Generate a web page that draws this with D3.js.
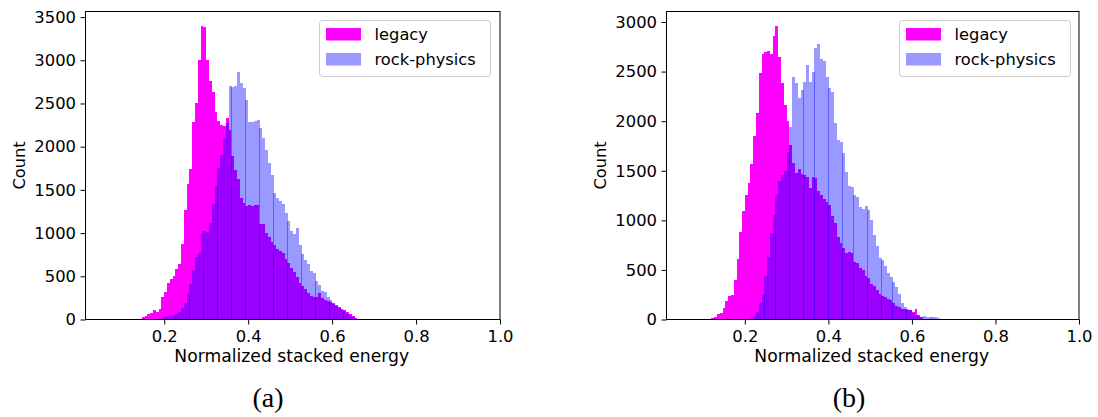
<!DOCTYPE html>
<html>
<head>
<meta charset="utf-8">
<script src="https://cdn.jsdelivr.net/npm/d3@7"></script>
<style>
  body { margin: 0; background: #fff; }
  svg { display: block; }
  text { fill: #000; }
</style>
</head>
<body>
<svg id="fig" width="1098" height="417"></svg>
<script>
// Histogram bins: edges at binWidth multiples, each series lists counts from its first bin index.
const binWidth = 1 / 150;
const seriesNames = ["legacy", "rock-physics"];
const xTicks = [0.2, 0.4, 0.6, 0.8, 1.0];
const yTicksA = [0, 500, 1000, 1500, 2000, 2500, 3000, 3500];
const yTicksB = [0, 500, 1000, 1500, 2000, 2500, 3000];
const captions = ["(a)", "(b)"];

// Panel (a)
const legacyAFirst = 22;
const legacyA = [29, 44, 60, 75, 110, 87, 122, 265, 315, 419, 473, 508, 581, 643, 871, 1269,
  1570, 1740, 2289, 2505, 3007, 3395, 3390, 3007, 2756, 2629, 2407, 2292, 2250, 2235, 2331,
  2190, 1895, 1733, 1625, 1405, 1347, 1316, 1327, 1308, 1321, 1321, 1107, 1100, 999, 960, 902,
  863, 820, 790, 767, 700, 651, 600, 554, 496, 419, 387, 350, 303, 272, 265, 257, 303, 245,
  226, 215, 207, 190, 165, 150, 125, 110, 85, 62, 38, 18, 5];
const rockAFirst = 29;
const rockA = [15, 33, 40, 52, 56, 64, 91, 129, 187, 311, 411, 574, 728, 774, 1006, 1025, 1010,
  1113, 1340, 1550, 1750, 1900, 2100, 2280, 2700, 2690, 2700, 2868, 2735, 2685, 2540, 2285,
  2281, 2295, 2312, 2215, 2099, 1964, 1810, 1674, 1462, 1410, 1370, 1338, 1235, 1140, 1030,
  990, 1056, 863, 757, 693, 643, 560, 543, 440, 405, 330, 320, 260, 226, 185, 160, 130, 108,
  95, 65, 42, 25, 10];

// Panel (b)
const legacyBFirst = 18;
const legacyB = [12, 22, 55, 62, 119, 186, 237, 247, 398, 606, 885, 1097, 1254, 1372, 1564,
  1850, 2078, 2487, 2676, 2700, 2710, 2680, 2857, 2958, 2649, 2380, 2162, 2000, 1760, 1580,
  1480, 1520, 1470, 1460, 1440, 1330, 1440, 1430, 1300, 1260, 1220, 1180, 1150, 1043, 976,
  835, 774, 717, 667, 684, 667, 583, 566, 520, 499, 438, 415, 358, 340, 297, 260, 237, 226,
  207, 200, 163, 140, 123, 110, 103, 95, 92, 80, 110, 45, 22, 8];
const rockBFirst = 30;
const rockB = [5, 8, 12, 40, 79, 163, 247, 438, 633, 870, 1050, 1260, 1400, 1460, 1500, 1690,
  1937, 2441, 2380, 2229, 2313, 2397, 2565, 2397, 2498, 2733, 2775, 2623, 2609, 2448, 2330,
  2297, 1978, 1810, 1792, 1675, 1490, 1346, 1339, 1255, 1238, 1137, 1110, 1147, 1104, 1000,
  850, 745, 620, 600, 540, 470, 430, 375, 330, 260, 170, 130, 105, 92, 65, 50, 38, 29, 37,
  30, 22, 30, 30, 15];

const colors = { legacy: "#ff00ff", rock: "#0000ff" };
const sans = "'DejaVu Sans', sans-serif";
const serif = "'Liberation Serif', 'DejaVu Serif', serif";
const svg = d3.select("#fig");

function toBins(counts, first) {
  return counts.map((c, i) => ({ x0: (first + i) * binWidth, x1: (first + i + 1) * binWidth, n: c }));
}

function panel(opts) {
  const { left, right, top, bottom, legacy, rock, yTicks, legendX, caption, captionX } = opts;
  const g = svg.append("g");
  const x = d3.scaleLinear().domain([0.0124, 1.0]).range([left, right]);
  const ymax = 1.05 * d3.max([...legacy, ...rock], d => d.n);
  const y = d3.scaleLinear().domain([0, ymax]).range([bottom, top]);

  // legacy bars (opaque)
  g.append("g").attr("shape-rendering", "crispEdges")
    .selectAll("rect").data(legacy).join("rect")
    .attr("x", d => Math.round(x(d.x0)))
    .attr("width", d => Math.round(x(d.x1)) - Math.round(x(d.x0)))
    .attr("y", d => Math.round(y(d.n)))
    .attr("height", d => Math.round(y(0)) - Math.round(y(d.n)))
    .attr("fill", colors.legacy);

  // rock-physics bars (translucent); snapped widths overlap by a pixel now and then
  g.append("g").attr("shape-rendering", "crispEdges")
    .selectAll("rect").data(rock).join("rect")
    .attr("x", d => Math.round(x(d.x0)))
    .attr("width", d => Math.ceil(x(d.x1) - x(d.x0)))
    .attr("y", d => Math.round(y(d.n)))
    .attr("height", d => Math.round(y(0)) - Math.round(y(d.n)))
    .attr("fill", colors.rock)
    .attr("fill-opacity", 0.4);

  // axes
  const xAxis = d3.axisBottom(x).tickValues(xTicks).tickFormat(d3.format(".1f"))
    .tickSize(5).tickPadding(5.5);
  const yAxis = d3.axisLeft(y).tickValues(yTicks).tickFormat(d3.format("d"))
    .tickSize(5).tickPadding(4.5);
  const gx = g.append("g").attr("transform", `translate(0,${bottom})`).call(xAxis);
  const gy = g.append("g").attr("transform", `translate(${left},0)`).call(yAxis);
  [gx, gy].forEach(a => {
    a.select(".domain").remove();
    a.selectAll("line").attr("stroke", "#000").attr("stroke-width", 1);
    a.selectAll("text").style("font-size", "16.4px").style("font-family", sans).attr("fill", "#000");
  });

  // frame
  g.append("rect").attr("x", left).attr("y", top)
    .attr("width", right - left).attr("height", bottom - top)
    .attr("fill", "none").attr("stroke", "#000").attr("stroke-width", 1);

  // labels
  g.append("text").attr("x", (left + right) / 2 - 1).attr("y", 362)
    .attr("text-anchor", "middle").style("font-size", "17.2px").style("font-family", sans)
    .text("Normalized stacked energy");
  g.append("text").attr("transform", `translate(${left - 60.5},${(top + bottom) / 2}) rotate(-90)`)
    .attr("text-anchor", "middle").style("font-size", "16.2px").style("font-family", sans)
    .text("Count");

  // legend
  const lg = g.append("g").attr("transform", `translate(${legendX},20.5)`);
  lg.append("rect").attr("width", 171).attr("height", 56).attr("rx", 3)
    .attr("fill", "#fff").attr("fill-opacity", 0.8).attr("stroke", "#cccccc");
  const entries = [
    { name: seriesNames[0], fill: colors.legacy, op: 1 },
    { name: seriesNames[1], fill: colors.rock, op: 0.4 }
  ];
  entries.forEach((e, i) => {
    lg.append("rect").attr("x", 6.5).attr("y", 7.5 + i * 25).attr("width", 35).attr("height", 12.5)
      .attr("fill", e.fill).attr("fill-opacity", e.op);
    lg.append("text").attr("x", 55).attr("y", 19.5 + i * 25)
      .style("font-size", "16.3px").style("font-family", sans).text(e.name);
  });

  // caption
  svg.append("text").attr("x", captionX).attr("y", 407).attr("text-anchor", "middle")
    .style("font-family", serif).style("font-size", "28px").text(caption);
}

panel({ left: 85.5, right: 500, top: 11.5, bottom: 319.5,
  legacy: toBins(legacyA, legacyAFirst), rock: toBins(rockA, rockAFirst),
  yTicks: yTicksA, legendX: 319.5, caption: captions[0], captionX: 268 });
panel({ left: 666.5, right: 1079, top: 11.5, bottom: 319.5,
  legacy: toBins(legacyB, legacyBFirst), rock: toBins(rockB, rockBFirst),
  yTicks: yTicksB, legendX: 899.5, caption: captions[1], captionX: 849 });
</script>
</body>
</html>
